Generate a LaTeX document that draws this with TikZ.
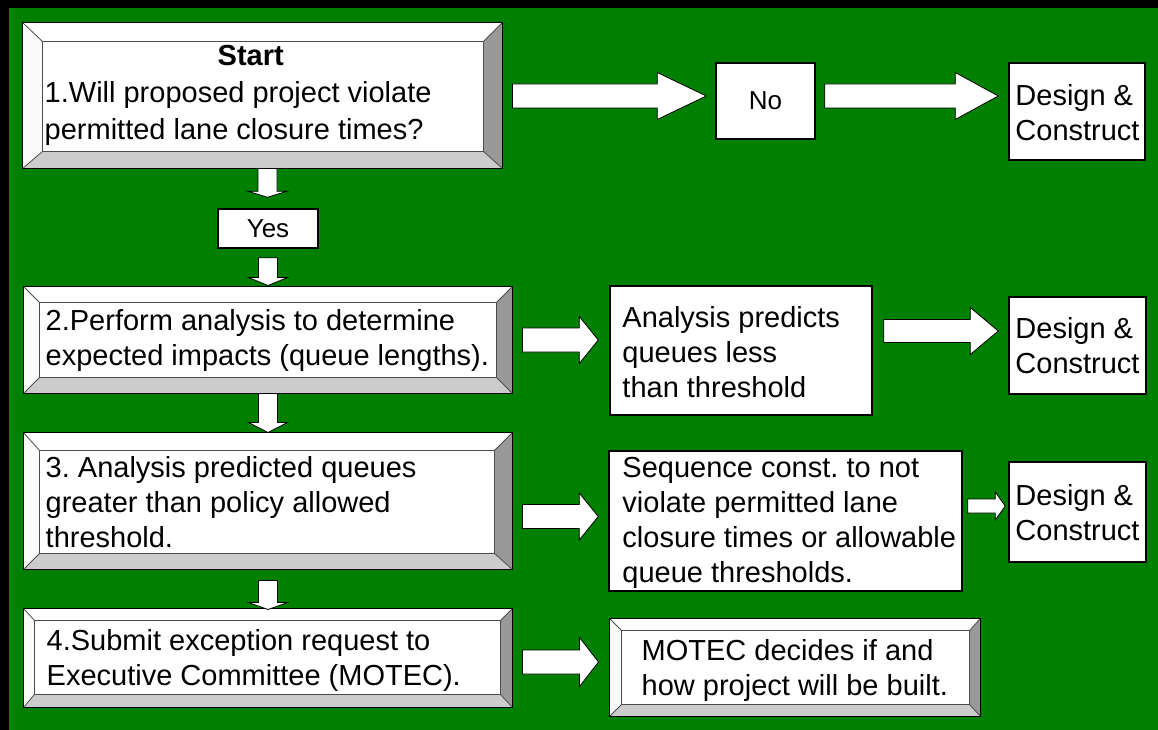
\documentclass[tikz,border=0pt]{standalone}
\usepackage{fontspec}
\setmainfont{Liberation Sans}
\usetikzlibrary{calc}
\frenchspacing
\definecolor{bggreen}{RGB}{0,128,0}
\definecolor{bvright}{RGB}{153,153,153}
\definecolor{bvbottom}{RGB}{204,204,204}
\definecolor{bvtop}{RGB}{255,255,255}
\definecolor{bvleft}{RGB}{250,250,250}
\tikzset{
  plainbox/.style={draw=black, line width=1.5pt, fill=white, inner sep=0pt},
  bevelbox/.style={draw=black, line width=1pt, fill=white, inner sep=0pt},
  boxtext/.style={anchor=west, align=left, inner sep=0pt, font=\fontsize{29}{35}\selectfont},
  blockarrow/.style={draw=black, line width=0.8pt, fill=white, line join=miter},
  bevelline/.style={draw=black!70, line width=0.8pt},
}
\newcommand\bevelframe[5]{%
  \coordinate (#1-o1) at (#1.north west);
  \coordinate (#1-o2) at (#1.north east);
  \coordinate (#1-o3) at (#1.south east);
  \coordinate (#1-o4) at (#1.south west);
  \coordinate (#1-i1) at ($(#1.north west)+(#2,#3)$);
  \coordinate (#1-i2) at ($(#1.north east)+(-#4,#3)$);
  \coordinate (#1-i3) at ($(#1.south east)+(-#4,-#5)$);
  \coordinate (#1-i4) at ($(#1.south west)+(#2,-#5)$);
  \fill[bvtop] (#1-o1) -- (#1-o2) -- (#1-i2) -- (#1-i1) -- cycle;
  \fill[bvright] (#1-o2) -- (#1-o3) -- (#1-i3) -- (#1-i2) -- cycle;
  \fill[bvbottom] (#1-o3) -- (#1-o4) -- (#1-i4) -- (#1-i3) -- cycle;
  \fill[bvleft] (#1-o4) -- (#1-o1) -- (#1-i1) -- (#1-i4) -- cycle;
  \draw[bevelline] (#1-i1) rectangle (#1-i3) (#1-o1) -- (#1-i1) (#1-o2) -- (#1-i2)
     (#1-o3) -- (#1-i3) (#1-o4) -- (#1-i4);
  \draw[black, line width=1pt] (#1-o1) rectangle (#1-o3);
}
\newcommand\harrow[5]{%
  \draw[blockarrow] let \p1=#1, \p2=#2 in
   (\x1,{\y1+#4pt}) -- ({\x2-#3pt},{\y1+#4pt}) -- ({\x2-#3pt},{\y1+#5pt}) -- (\x2,\y1)
   -- ({\x2-#3pt},{\y1-#5pt}) -- ({\x2-#3pt},{\y1-#4pt}) -- (\x1,{\y1-#4pt}) -- cycle;
}
\newcommand\varrow[5]{%
  \draw[blockarrow] let \p1=#1, \p2=#2 in
   ({\x1-#4pt},\y1) -- ({\x1-#4pt},{\y2+#3pt}) -- ({\x1-#5pt},{\y2+#3pt}) -- (\x1,\y2)
   -- ({\x1+#5pt},{\y2+#3pt}) -- ({\x1+#4pt},{\y2+#3pt}) -- ({\x1+#4pt},\y1) -- cycle;
}
\begin{document}
\begin{tikzpicture}[x=1pt, y=-1pt]
\useasboundingbox (0,0) rectangle (1158,730);
\fill[black] (0,0) rectangle (1158,730);
\fill[bggreen] (9,8) rectangle (1158,730);

% ---- boxes ----
\node[bevelbox, minimum width=479pt, minimum height=145pt] (b1) at (262.5,95.5) {};
\bevelframe{b1}{20}{19}{19}{17}
\node[boxtext, font=\fontsize{29}{37}\selectfont] (b1t) at ($(b1.west)+(22,0)$)
  {\makebox[390pt][c]{\hspace*{22pt}\bfseries Start}\\1.Will proposed project violate\\permitted lane closure times?};

\node[plainbox, minimum width=100pt, minimum height=39pt,
  font=\fontsize{26}{30}\selectfont] (yes) at (268,228.5) {Yes};

\node[bevelbox, minimum width=488pt, minimum height=106pt] (b2) at (268,340) {};
\bevelframe{b2}{16}{16}{16}{16}
\node[boxtext] (b2t) at ($(b2.west)+(22,0)$)
  {2.Perform analysis to determine\\expected impacts (queue lengths).};

\node[bevelbox, minimum width=488pt, minimum height=136pt] (b3) at (268,501) {};
\bevelframe{b3}{16}{18}{18}{16}
\node[boxtext] (b3t) at ($(b3.west)+(22,1)$)
  {3. Analysis predicted queues\\greater than policy allowed\\threshold.};

\node[bevelbox, minimum width=488pt, minimum height=98pt] (b4) at (268,658) {};
\bevelframe{b4}{11}{12}{12}{13}
\node[boxtext] (b4t) at ($(b4.west)+(23,2.5)$)
  {4.Submit exception request to\\Executive Committee (MOTEC).};

\node[plainbox, minimum width=99pt, minimum height=76pt,
  font=\fontsize{26}{30}\selectfont] (no) at (765.5,101) {No};

\node[plainbox, minimum width=262pt, minimum height=129pt] (an) at (741,350.5) {};
\node[boxtext] (ant) at ($(an.west)+(13,1.5)$)
  {Analysis predicts\\queues less\\than threshold};

\node[plainbox, minimum width=353pt, minimum height=140pt] (sq) at (785.5,521) {};
\node[boxtext] (sqt) at ($(sq.west)+(14,1.5)$)
  {Sequence const. to not\\violate permitted lane\\closure times or allowable\\queue thresholds.};

\node[bevelbox, minimum width=370pt, minimum height=97pt] (mo) at (795,667.5) {};
\bevelframe{mo}{12}{12}{11}{12}
\node[boxtext] (mot) at ($(mo.west)+(32,3)$)
  {MOTEC decides if and\\how project will be built.};

\node[plainbox, minimum width=136pt, minimum height=97pt] (d1) at (1077,111.5) {};
\node[boxtext] (d1t) at ($(d1.west)+(7,1)$) {Design \&\\Construct};
\node[plainbox, minimum width=137pt, minimum height=97pt] (d2) at (1077.5,345.5) {};
\node[boxtext] (d2t) at ($(d2.west)+(7,0.5)$) {Design \&\\Construct};
\node[plainbox, minimum width=137pt, minimum height=100pt] (d3) at (1077.5,512) {};
\node[boxtext] (d3t) at ($(d3.west)+(7,0.5)$) {Design \&\\Construct};

% ---- vertical block arrows ----
\varrow{($(b1.south)+(5,0)$)}{($(yes.north)+(0,-11)$)}{6}{9.5}{19.5}
\varrow{($(yes.south)+(0,9)$)}{($(b2.north)+(0,-1)$)}{8}{9.5}{19.5}
\varrow{($(b2.south)+(0,0)$)}{($(b3.north)+(0,0)$)}{10}{9.5}{19.5}
\varrow{($(b3.south)+(0,11)$)}{($(b4.north)+(0,1)$)}{7}{9.5}{19.5}

% ---- horizontal block arrows ----
\harrow{($(b1.east)+(10,0.5)$)}{($(no.west)+(-9,0)$)}{49}{12}{23.5}
\harrow{($(no.east)+(9,-5)$)}{($(d1.west)+(-10,0)$)}{43}{12}{23.5}
\harrow{($(b2.east)+(10,0)$)}{($(an.west)+(-11,0)$)}{19}{12}{23.5}
\harrow{($(an.east)+(11,-19.5)$)}{($(d2.west)+(-10,0)$)}{28}{11.5}{23.5}
\harrow{($(b3.east)+(10,15.5)$)}{($(sq.west)+(-10,0)$)}{19}{12}{23.5}
\harrow{($(sq.east)+(5,-15)$)}{($(d3.west)+(-3,0)$)}{10}{7}{14}
\harrow{($(b4.east)+(10,4)$)}{($(mo.west)+(-11,0)$)}{19}{12}{24.5}
\end{tikzpicture}
\end{document}
